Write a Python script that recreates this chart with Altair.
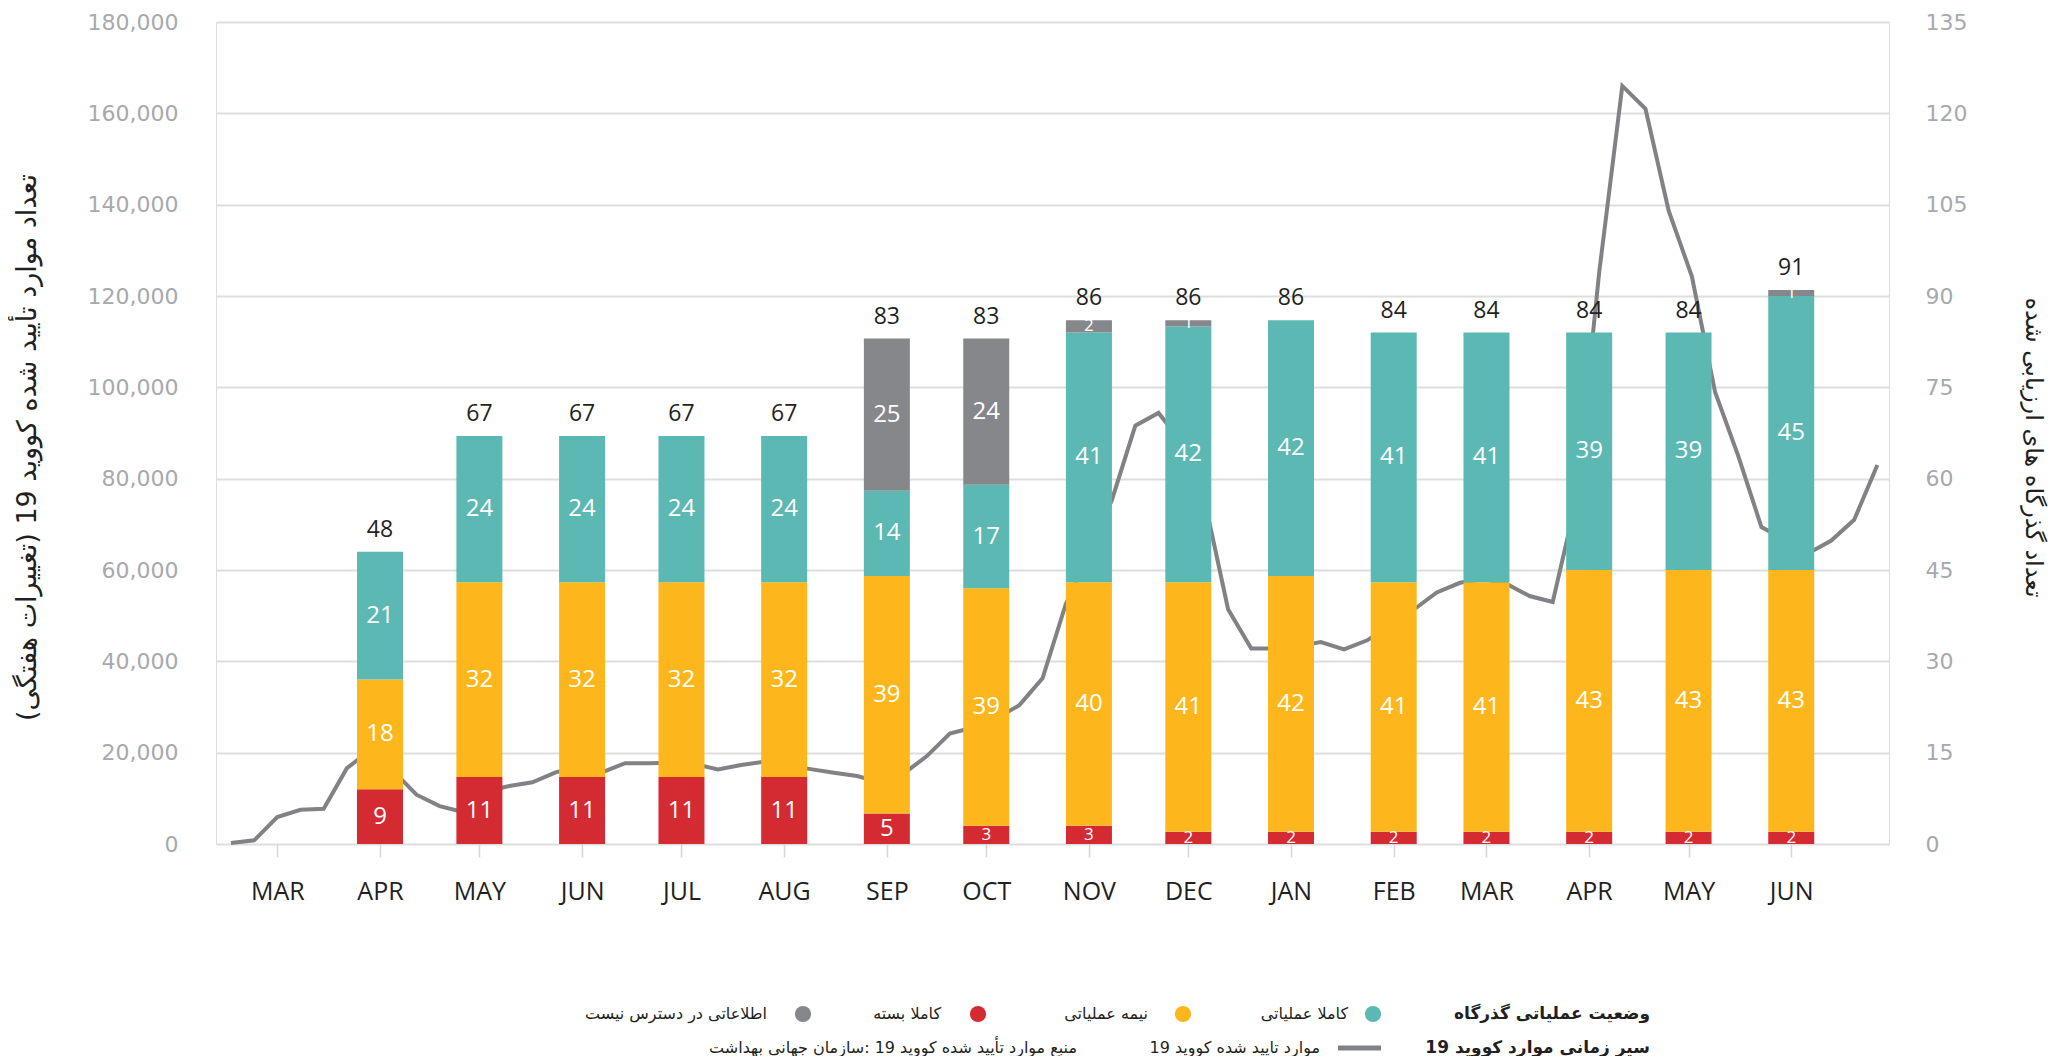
import json
import altair as alt
import pandas as pd

# ---------------- data ----------------
month_labels = ["MAR", "APR", "MAY", "JUN", "JUL", "AUG", "SEP", "OCT",
                "NOV", "DEC", "JAN", "FEB", "MAR", "APR", "MAY", "JUN"]
tick_dates = ["2020-03-01", "2020-04-01", "2020-05-01", "2020-06-01",
              "2020-07-01", "2020-08-01", "2020-09-01", "2020-10-01",
              "2020-11-01", "2020-12-01", "2021-01-01", "2021-02-01",
              "2021-03-01", "2021-04-01", "2021-05-01", "2021-06-01"]
bar_dates = tick_dates[1:]

status_names = ["کاملا بسته", "نیمه عملیاتی", "کاملا عملیاتی", "اطلاعاتی در دسترس نیست"]
status_colors = ["#d42a32", "#fdb71d", "#5cb8b2", "#86878b"]
fully_closed = [9, 11, 11, 11, 11, 5, 3, 3, 2, 2, 2, 2, 2, 2, 2]
partially_operational = [18, 32, 32, 32, 32, 39, 39, 40, 41, 42, 41, 41, 43, 43, 43]
fully_operational = [21, 24, 24, 24, 24, 14, 17, 41, 42, 42, 41, 41, 39, 39, 45]
no_information = [0, 0, 0, 0, 0, 25, 24, 2, 1, 0, 0, 0, 0, 0, 1]

week_start = "2020-02-16"
weekly_cases = [
    200, 800, 5900, 7500, 7700, 16600, 20500, 16000, 10800, 8300,
    7000, 11500, 12700, 13500, 15700, 17000, 15700, 17700, 17700, 17800,
    17500, 16300, 17300, 18000, 17200, 16400, 15600, 14900, 13500, 15400,
    19200, 24200, 25500, 27500, 30400, 36300, 52500, 63000, 75500, 91600,
    94400, 88000, 75000, 51400, 42800, 42800, 43300, 44200, 42600, 44600,
    48000, 51300, 55100, 57200, 58000, 57000, 54300, 53000, 75000, 125000,
    166000, 161000, 138700, 124300, 99000, 85000, 69400, 66700, 63600, 66400,
    71000, 83000,
]

left_title = "\u200fتعداد موارد تأیید شده کووید 19 (تغییرات هفتگی)\u200f"
right_title = "\u200fتعداد گذرگاه های ارزیابی شده\u200f"
legend_status_title = "وضعیت عملیاتی گذرگاه"
legend_line_title = "سیر زمانی موارد کووید 19"
legend_line_label = "موارد تایید شده کووید 19"
legend_source = "منبع موارد تأیید شده کووید 19 :سازمان جهانی بهداشت"

# ---------------- tables ----------------
series = [fully_closed, partially_operational, fully_operational, no_information]
rows = []
for i, d in enumerate(bar_dates):
    for order, (name, vals) in enumerate(zip(status_names, series)):
        rows.append({"date": d, "status": name, "order": order, "value": vals[i]})
bars_df = pd.DataFrame(rows)

line_df = pd.DataFrame({
    "date": pd.date_range(week_start, periods=len(weekly_cases), freq="7D").strftime("%Y-%m-%d"),
    "cases": weekly_cases,
})

# ---------------- styles ----------------
NUM_FONT = "DejaVu Sans"
LAT_FONT = "Open Sans"
FA_FONT = "DejaVu Sans"
DARK = "#231f20"
AXIS_GRAY = "#a7a9ac"
GRID = "#dedede"

x_scale = alt.Scale(
    type="utc", nice=False,
    domain=[alt.DateTime(year=2020, month=2, date=13, utc=True),
            alt.DateTime(year=2021, month=6, date=29, utc=True)],
)
tick_values = [alt.DateTime(year=int(d[:4]), month=int(d[5:7]), date=1, utc=True) for d in tick_dates]
x_axis = alt.Axis(
    values=tick_values,
    labelExpr=f"{json.dumps(month_labels)}[(utcyear(datum.value) - 2020) * 12 + utcmonth(datum.value) - 2]",
    title=None, domain=False, grid=False,
    tickColor="#d6d6d6", tickSize=13, tickWidth=1.5,
    labelFont=LAT_FONT, labelFontSize=25, labelColor=DARK, labelPadding=22,
)


def xenc():
    return alt.X("date:T", scale=x_scale, axis=x_axis)


# ---------------- line (left axis) ----------------
line = alt.Chart(line_df).mark_line(color="#808285", strokeWidth=4).encode(
    x=xenc(),
    y=alt.Y("cases:Q",
            scale=alt.Scale(domain=[0, 180000], nice=False),
            axis=alt.Axis(values=list(range(0, 180001, 20000)), format=",.0f",
                          orient="left", grid=True, gridColor=GRID, gridWidth=2,
                          domain=False, ticks=False,
                          labelColor=AXIS_GRAY, labelFont=NUM_FONT, labelFontSize=22,
                          labelPadding=38,
                          title=left_title, titleFont=FA_FONT, titleFontSize=27,
                          titleFontWeight="normal", titleColor=DARK, titlePadding=46,
                          titleY=425)),
)

# ---------------- stacked bars (right axis) ----------------
stacked = (
    alt.Chart(bars_df)
    .transform_filter("datum.value > 0")
    .transform_stack(stack="value", groupby=["date"], as_=["v0", "v1"],
                     sort=[alt.SortField("order", "ascending")])
    .transform_calculate(mid="(datum.v0 + datum.v1) / 2")
)
right_scale = alt.Scale(domain=[0, 135], nice=False)
right_axis = alt.Axis(orient="right", values=list(range(0, 136, 15)),
                      grid=False, domain=False, ticks=False,
                      labelColor=AXIS_GRAY, labelFont=NUM_FONT, labelFontSize=22,
                      labelPadding=36,
                      title=right_title, titleFont=FA_FONT, titleFontSize=24,
                      titleFontWeight="normal", titleColor=DARK, titlePadding=54,
                      titleAngle=90, titleY=425)

bars = stacked.mark_bar(size=46).encode(
    x=xenc(),
    y=alt.Y("v0:Q", scale=right_scale, axis=right_axis),
    y2="v1:Q",
    color=alt.Color("status:N", scale=alt.Scale(domain=status_names, range=status_colors),
                    legend=None),
)

seg_labels = stacked.mark_text(color="white", font=LAT_FONT, baseline="middle").encode(
    x=xenc(),
    y=alt.Y("mid:Q", scale=right_scale, axis=right_axis),
    text=alt.Text("value:Q"),
    size=alt.condition("datum.value <= 3", alt.value(17), alt.value(24)),
)

totals = (
    alt.Chart(bars_df)
    .transform_aggregate(total="sum(value)", groupby=["date"])
    .mark_text(color=DARK, font=LAT_FONT, fontSize=23, baseline="middle", dy=-22)
    .encode(
        x=xenc(),
        y=alt.Y("total:Q", scale=right_scale, axis=right_axis),
        text=alt.Text("total:Q"),
    )
)

bar_layer = alt.layer(bars, seg_labels, totals)

# ---------------- manual RTL legend ----------------
one = pd.DataFrame({"k": [0]})
ROW1, ROW2 = 992, 1026
legend_layers = []


def legend_text(txt, xr, yy, bold=False, size=16):
    return alt.Chart(one).mark_text(
        text=txt, align="right", baseline="middle", font=FA_FONT,
        fontSize=size, fontWeight="bold" if bold else "normal", color=DARK,
    ).encode(x=alt.value(xr), y=alt.value(yy))


def legend_dot(color, xc, yy):
    return alt.Chart(one).mark_point(filled=True, size=260, opacity=1, color=color).encode(
        x=alt.value(xc), y=alt.value(yy))


legend_layers.append(legend_text(legend_status_title, 1434, ROW1, bold=True, size=17))
dot_x = [1157, 967, 762, 587]
lab_x = [1132, 932, 725, 551]
for name, col, dx, lx in zip(status_names[2::-1] + [status_names[3]],
                             status_colors[2::-1] + [status_colors[3]], dot_x, lab_x):
    legend_layers.append(legend_dot(col, dx, ROW1))
    legend_layers.append(legend_text(name, lx, ROW1))

legend_layers.append(legend_text(legend_line_title, 1434, ROW2, bold=True, size=17))
legend_layers.append(
    alt.Chart(one).mark_rule(color="#808285", strokeWidth=5).encode(
        x=alt.value(1122), x2=alt.value(1165), y=alt.value(ROW2))
)
legend_layers.append(legend_text(legend_line_label, 1104, ROW2))
legend_layers.append(legend_text(legend_source, 861, ROW2))

chart = (
    alt.layer(line, bar_layer, *legend_layers)
    .resolve_scale(y="independent")
    .properties(width=1673, height=822,
                padding={"left": 5, "top": 3, "right": 8, "bottom": 0})
    .configure_view(stroke=None)
    .configure(background="white")
)

chart.save("out.html", embed_options={"renderer": "svg", "actions": False})
